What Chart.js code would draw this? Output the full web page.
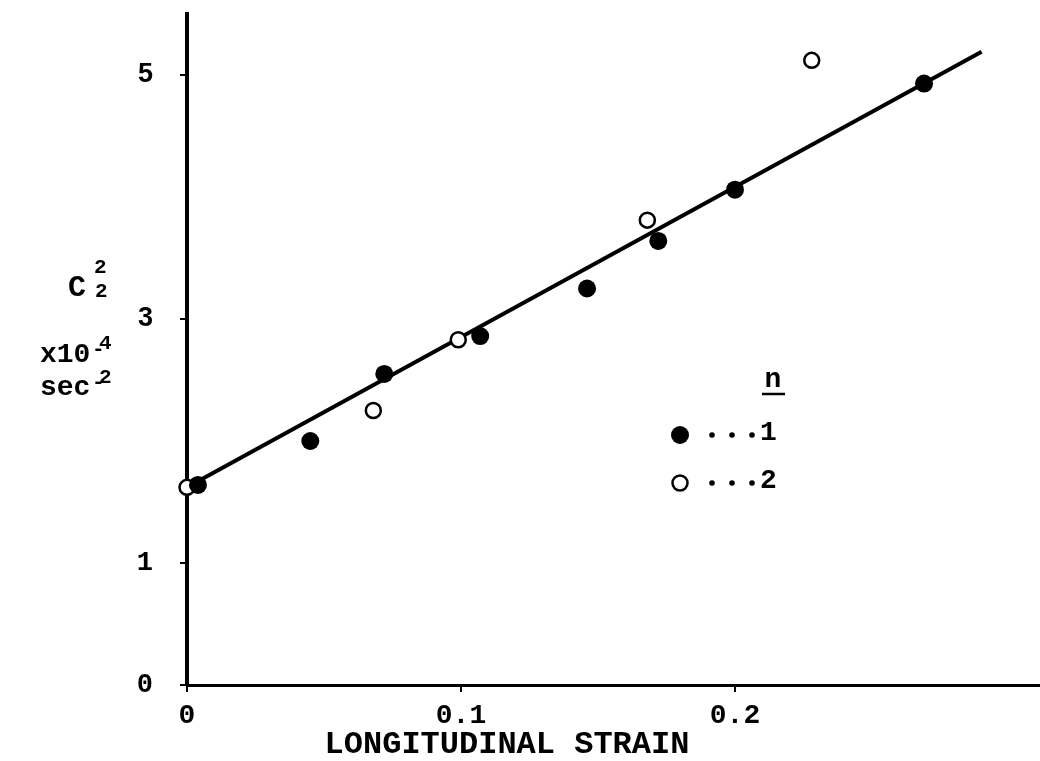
<!DOCTYPE html>
<html><head><meta charset="utf-8">
<script src="https://cdn.jsdelivr.net/npm/chart.js@4.4.1/dist/chart.umd.min.js"></script>
<style>html,body{margin:0;padding:0;background:#fff;overflow:hidden}#wrap{width:1040px;height:761px;position:relative}</style>
</head><body><div id="wrap"><canvas id="c" width="1040" height="761"></canvas></div>
<script>
// ---- data ----
const n1Strain = [0.004, 0.045, 0.072, 0.107, 0.146, 0.172, 0.200, 0.269];
const n1C2     = [1.64, 2.00, 2.55, 2.86, 3.25, 3.64, 4.06, 4.93];
const n2Strain = [0.000, 0.068, 0.099, 0.168, 0.228];
const n2C2     = [1.62, 2.25, 2.83, 3.81, 5.12];
const fitStrain = [0, 0.290];
const fitC2     = [1.62, 5.19];
const xTickValues = [0, 0.1, 0.2];
const xTickLabels = ['0', '0.1', '0.2'];
const yTickValues = [0, 1, 3, 5];
const yTickLabels = ['0', '1', '3', '5'];
const xTitle = 'LONGITUDINAL STRAIN';
const legendTitle = 'n';
const legendLabels = ['1', '2'];

const MONO = '"Liberation Mono", "DejaVu Sans Mono", monospace';
const SANS = '"Liberation Sans", Arial, sans-serif';

const pts = (xs, ys) => xs.map((x, i) => ({x, y: ys[i]}));

const annotate = {
  id: 'annotate',
  afterDraw(chart) {
    const ctx = chart.ctx;
    ctx.save();
    ctx.fillStyle = '#000'; ctx.strokeStyle = '#000';
    ctx.textBaseline = 'middle';
    // x axis title
    ctx.textAlign = 'center';
    ctx.font = 'bold 32px ' + MONO;
    ctx.fillText(xTitle, 507, 745);
    // y axis title block
    ctx.textAlign = 'left';
    ctx.font = 'bold 30px ' + MONO;
    ctx.fillText('C', 68, 288);
    ctx.font = 'bold 21px ' + MONO;
    ctx.fillText('2', 94, 268);
    ctx.fillText('2', 95, 292);
    ctx.font = 'bold 28px ' + MONO;
    ctx.fillText('x10', 40, 355);
    ctx.fillText('sec', 40, 388);
    ctx.font = 'bold 21px ' + MONO;
    ctx.fillText('-', 92, 350);
    ctx.fillText('4', 99, 344);
    ctx.fillText('-', 92, 383);
    ctx.fillText('2', 99, 378);
    // legend
    ctx.font = 'bold 28px ' + MONO;
    ctx.textAlign = 'center';
    ctx.fillText(legendTitle, 773, 380);
    ctx.lineWidth = 2.5;
    ctx.beginPath(); ctx.moveTo(762, 394); ctx.lineTo(785, 394); ctx.stroke();
    const rows = [435, 483];
    rows.forEach((y, i) => {
      ctx.beginPath();
      if (i === 0) { ctx.arc(680, y, 9, 0, Math.PI * 2); ctx.fill(); }
      else { ctx.lineWidth = 2.5; ctx.arc(680, y, 7.5, 0, Math.PI * 2); ctx.stroke(); }
      [712, 732, 752].forEach(dx => { ctx.beginPath(); ctx.arc(dx, y, 2.8, 0, Math.PI * 2); ctx.fill(); });
      ctx.textAlign = 'left';
      ctx.fillText(legendLabels[i], 760, y - 2);
    });
    ctx.restore();
  }
};

new Chart(document.getElementById('c'), {
  data: {
    datasets: [
      { type: 'line', data: pts(fitStrain, fitC2), borderColor: '#000', borderWidth: 4,
        pointRadius: 0, fill: false, clip: false, order: 3 },
      { type: 'scatter', label: 'n = 1', data: pts(n1Strain, n1C2), pointRadius: 9,
        backgroundColor: '#000', borderColor: '#000', borderWidth: 0, clip: false, order: 1 },
      { type: 'scatter', label: 'n = 2', data: pts(n2Strain, n2C2), pointRadius: 7.5,
        backgroundColor: '#fff', borderColor: '#000', borderWidth: 2.5, clip: false, order: 2 }
    ]
  },
  options: {
    responsive: false, animation: false, devicePixelRatio: 1,
    layout: { autoPadding: false, padding: { top: 14, right: 0, bottom: 0, left: 0 } },
    plugins: { legend: { display: false }, tooltip: { enabled: false } },
    scales: {
      x: {
        type: 'linear', min: 0, max: (1040 - 187) / 2740,
        afterBuildTicks: s => { s.ticks = xTickValues.map(v => ({ value: v })); },
        afterFit: s => { s.height = 76; s.paddingLeft = 0; s.paddingRight = 0; },
        border: { display: true, color: '#000', width: 3 },
        grid: { drawOnChartArea: false, drawTicks: true, tickLength: 7, color: '#000', lineWidth: 2 },
        ticks: { color: '#000', padding: 7, maxRotation: 0, autoSkip: false,
          font: { family: MONO, weight: 'bold', size: 28 },
          callback: v => xTickLabels[xTickValues.indexOf(v)] }
      },
      y: {
        type: 'linear', min: 0, max: 5.5,
        afterBuildTicks: s => { s.ticks = yTickValues.map(v => ({ value: v })); },
        afterFit: s => { s.width = 187; s.paddingTop = 0; s.paddingBottom = 0; },
        border: { display: true, color: '#000', width: 4 },
        grid: { drawOnChartArea: false, drawTicks: true, tickLength: 7, color: '#000', lineWidth: 2 },
        ticks: { color: '#000', padding: 27, autoSkip: false,
          font: ctx => (ctx.tick && (ctx.tick.value === 3 || ctx.tick.value === 5))
            ? { family: SANS, weight: 'bold', size: 27 }
            : { family: MONO, weight: 'bold', size: 27 },
          callback: v => yTickLabels[yTickValues.indexOf(v)] }
      }
    }
  },
  plugins: [annotate]
});
</script></body></html>
